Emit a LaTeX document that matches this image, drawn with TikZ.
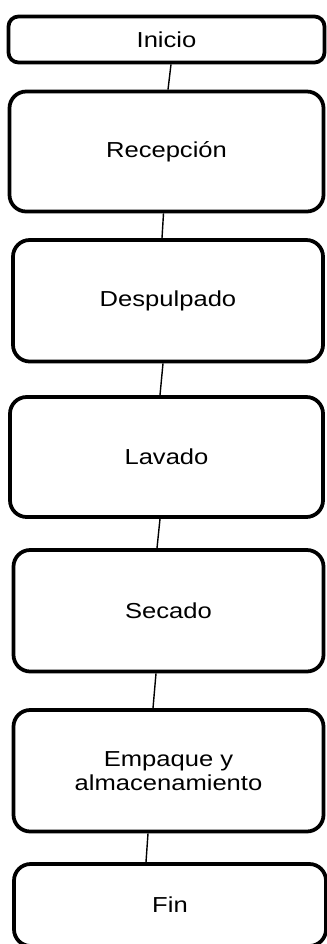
\documentclass[tikz,border=0pt]{standalone}
\usepackage{fontspec}
\usepackage{tikz}
\usetikzlibrary{calc}
\newfontfamily\boxfont[FakeStretch=1.18]{Liberation Sans}
\tikzset{etapa/.style = {draw, line width=3.2pt, rounded corners=0.5cm, align=center,
    font=\boxfont\fontsize{18.5}{20.5}\selectfont}}
\tikzset{enlace/.style = {line width=1.2pt}}

\begin{document}
\begin{tikzpicture}[x=0.03cm, y=-0.03cm]
\useasboundingbox (0,0) rectangle (326,944);
\node [etapa, rounded corners=0.3cm, minimum width=9.48cm, minimum height=1.38cm] (inicio) at (166.5,39.5) {Inicio};
\node [etapa, minimum width=9.42cm, minimum height=3.6cm] (recepcion) at (166.5,151.5) {Recepción};
\node [etapa, minimum width=9.3cm, minimum height=3.645cm] (despulpado) at (168,300.75) {Despulpado};
\node [etapa, minimum width=9.39cm, minimum height=3.6cm] (lavado) at (166.5,457) {Lavado};
\node [etapa, minimum width=9.3cm, minimum height=3.645cm] (secado) at (168.5,610.75) {Secado};
\node [etapa, minimum width=9.3cm, minimum height=3.645cm] (empaque) at (168.5,770.75) {Empaque y\\almacenamiento};
\node [etapa, minimum width=9.36cm, minimum height=2.46cm] (fin) at (170,905) {Fin};
\draw [enlace] ($(inicio.south)+(4.5,0)$) -- ($(recepcion.north)+(1.5,0)$);
\draw [enlace] ($(recepcion.south)+(-3,0)$) -- ($(despulpado.north)+(-6,0)$);
\draw [enlace] ($(despulpado.south)+(-5,0)$) -- ($(lavado.north)+(-6.5,0)$);
\draw [enlace] ($(lavado.south)+(-6.5,0)$) -- ($(secado.north)+(-11.5,0)$);
\draw [enlace] ($(secado.south)+(-12.5,0)$) -- ($(empaque.north)+(-15.5,0)$);
\draw [enlace] ($(empaque.south)+(-20.5,0)$) -- ($(fin.north)+(-24,0)$);
\end{tikzpicture}
\end{document}
